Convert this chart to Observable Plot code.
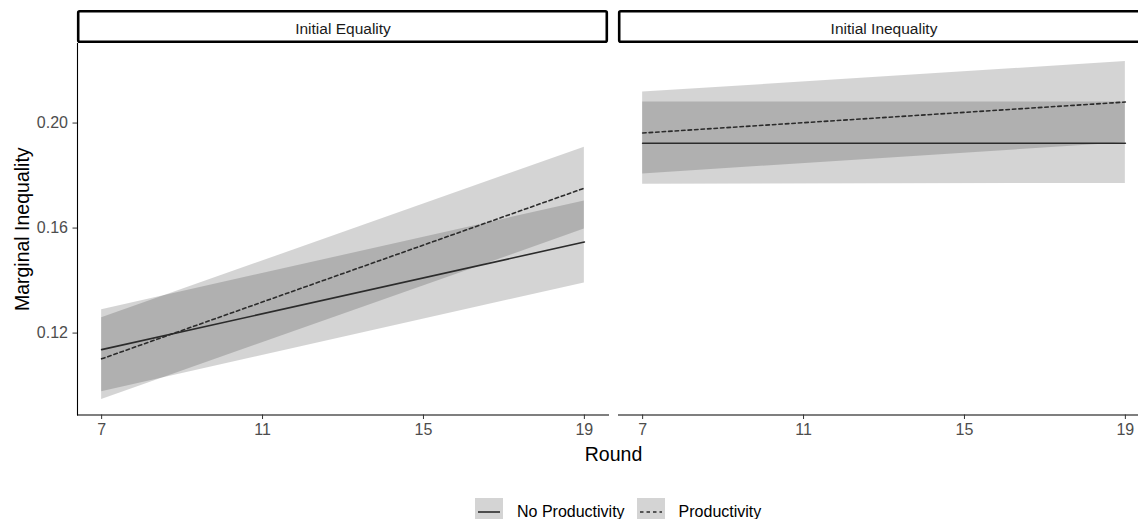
<!DOCTYPE html>
<html>
<head>
<meta charset="utf-8">
<script src="https://cdn.jsdelivr.net/npm/d3@7"></script>
<script src="https://cdn.jsdelivr.net/npm/@observablehq/plot@0.6"></script>
<style>
  html, body { margin: 0; padding: 0; background: #fff; overflow: hidden; width: 1138px; height: 519px; }
  #wrap { position: relative; width: 1160px; height: 519px; font-family: "Liberation Sans", Arial, Helvetica, sans-serif; }
  #chart svg { display: block; }
  .legend { position: absolute; left: 475px; top: 498px; display: flex; align-items: flex-start; font-size: 16px; color: #000; }
  .legend .item { display: flex; align-items: center; height: 28px; }
  .legend .key { width: 28px; height: 28px; display: block; }
  .legend .lab { margin-left: 14px; margin-right: 12px; line-height: 28px; }
</style>
</head>
<body>
<div id="wrap">
  <div id="chart"></div>
  <div class="legend" id="legend"></div>
</div>
<script>
// ---- data ----
const panels = ["Initial Equality", "Initial Inequality"];
const seriesNames = ["No Productivity", "Productivity"];
const rounds = [7, 19];
const xTicks = [7, 11, 15, 19];
const yTicks = [0.12, 0.16, 0.20];

// Initial Equality
const eqNoProdFit  = [0.1137, 0.1547];
const eqNoProdLow  = [0.0977, 0.1391];
const eqNoProdHigh = [0.1289, 0.1703];
const eqProdFit    = [0.1102, 0.1752];
const eqProdLow    = [0.0947, 0.1596];
const eqProdHigh   = [0.1258, 0.1908];
// Initial Inequality
const ineqNoProdFit  = [0.1923, 0.1923];
const ineqNoProdLow  = [0.1767, 0.1770];
const ineqNoProdHigh = [0.2080, 0.2080];
const ineqProdFit    = [0.1962, 0.2080];
const ineqProdLow    = [0.1806, 0.1925];
const ineqProdHigh   = [0.2118, 0.2234];

const table = [
  [panels[0], seriesNames[0], eqNoProdFit, eqNoProdLow, eqNoProdHigh],
  [panels[0], seriesNames[1], eqProdFit, eqProdLow, eqProdHigh],
  [panels[1], seriesNames[0], ineqNoProdFit, ineqNoProdLow, ineqNoProdHigh],
  [panels[1], seriesNames[1], ineqProdFit, ineqProdLow, ineqProdHigh]
];
const rows = [];
for (const [panel, series, fit, low, high] of table) {
  rounds.forEach((r, i) => rows.push({panel, series, round: r, fit: fit[i], low: low[i], high: high[i]}));
}

const font = '"Liberation Sans", Arial, Helvetica, sans-serif';
const W = 1160, H = 480, mTop = 43, mLeft = 77, mRight = 11, mBottom = H - 414.5;

const chart = Plot.plot({
  width: W, height: H,
  marginTop: mTop, marginLeft: mLeft, marginRight: mRight, marginBottom: mBottom,
  style: {fontFamily: font, background: "#fff", overflow: "visible"},
  x: {domain: [6.4, 19.6], ticks: xTicks},
  y: {domain: [0.0888, 0.2303], ticks: yTicks},
  fx: {domain: panels, paddingInner: 10 / 541, paddingOuter: 0, axis: null},
  marks: [
    Plot.areaY(rows, {x: "round", y1: "low", y2: "high", z: "series", fx: "panel", fill: "#000", fillOpacity: 0.17}),
    Plot.line(rows.filter(d => d.series === seriesNames[0]), {x: "round", y: "fit", fx: "panel", stroke: "#2b2b2b", strokeWidth: 1.6}),
    Plot.line(rows.filter(d => d.series === seriesNames[1]), {x: "round", y: "fit", fx: "panel", stroke: "#2b2b2b", strokeWidth: 1.6, strokeDasharray: "3.5,3"}),
    Plot.frame({anchor: "bottom", stroke: "#000", strokeWidth: 1.1}),
    Plot.frame({anchor: "left", facetAnchor: "left", stroke: "#000", strokeWidth: 1.1}),
    Plot.axisX({ticks: xTicks, tickSize: 4.5, tickPadding: 4, stroke: "#333", fill: "#4d4d4d", fontSize: 16,
      label: "Round", labelAnchor: "center", labelOffset: 46, labelArrow: "none"}),
    Plot.axisY({ticks: yTicks, tickSize: 4.5, tickPadding: 5, stroke: "#333", fill: "#4d4d4d", fontSize: 16,
      tickFormat: d3.format(".2f"), label: "Marginal Inequality", labelAnchor: "center", labelOffset: 62, labelArrow: "none"}),
    Plot.text(panels, {fx: d => d, text: d => d, frameAnchor: "top", lineAnchor: "middle", dy: -14.5, fontSize: 15.5, fill: "#1a1a1a"})
  ]
});

const svg = d3.select(chart);
// strip boxes behind the facet labels
const fxs = chart.scale("fx");
const strips = svg.insert("g", "g").attr("class", "strips");
for (const p of panels) {
  const x0 = mLeft + fxs.apply(p) - fxs.range[0];
  strips.append("rect")
    .attr("x", x0 + 1.2).attr("y", 11.2)
    .attr("width", fxs.bandwidth - 2.4).attr("height", mTop - 12.4)
    .attr("rx", 1.5)
    .attr("fill", "#fff").attr("stroke", "#000").attr("stroke-width", 2.6);
}
// axis titles: larger, black
svg.selectAll("g[aria-label='x-axis label'], g[aria-label='y-axis label']")
  .attr("font-size", 19.5).attr("fill", "#000");

document.getElementById("chart").appendChild(chart);

// legend (below the chart)
const legend = d3.select("#legend");
seriesNames.forEach((s, i) => {
  const item = legend.append("div").attr("class", "item");
  const k = item.append("svg").attr("class", "key").attr("width", 28).attr("height", 28);
  k.append("rect").attr("width", 28).attr("height", 28).attr("fill", "#000").attr("fill-opacity", 0.17);
  k.append("line").attr("x1", 3).attr("x2", 25).attr("y1", 14).attr("y2", 14)
    .attr("stroke", "#2b2b2b").attr("stroke-width", 1.6)
    .attr("stroke-dasharray", i === 1 ? "3.5,3" : null);
  item.append("span").attr("class", "lab").text(s);
});
</script>
</body>
</html>
